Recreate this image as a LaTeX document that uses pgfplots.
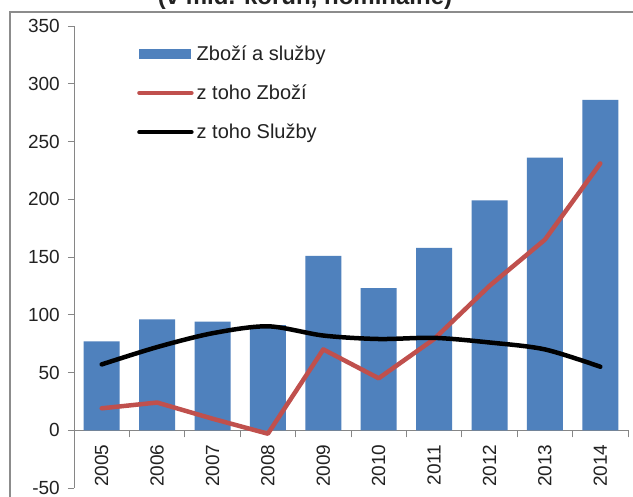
\documentclass[border=0pt]{standalone}
\usepackage{pgfplots}
\pgfplotsset{compat=1.18}
\usepackage{fontspec}
\setmainfont{Liberation Sans}
\definecolor{barblue}{HTML}{4F81BD}
\definecolor{linered}{HTML}{C0504D}
\definecolor{axgray}{HTML}{868686}
\definecolor{frgray}{HTML}{8C8C8C}
\definecolor{txt}{HTML}{222222}
\newcommand{\fs}{\fontsize{19bp}{22bp}\selectfont}
\newcommand{\fl}{\fontsize{20bp}{23bp}\selectfont}
\begin{document}
\begin{tikzpicture}
\clip (0,0) rectangle (633bp,-497bp);
\fill[white] (0,0) rectangle (633bp,-497bp);
\draw[line width=2bp, color=frgray] (10bp,-12bp) rectangle (700bp,-600bp);
\node[anchor=base, font=\fontsize{24bp}{27bp}\selectfont\bfseries, text=txt] at (305bp,-4bp) {(v mld. korun, nominálně)};
\begin{axis}[
  at={(74bp,-488bp)}, anchor=south west,
  scale only axis, width=554bp, height=462bp,
  xmin=-0.5, xmax=9.5, ymin=-50, ymax=350,
  axis x line=middle, axis y line=left,
  axis line style={-, axgray, line width=1bp},
  xtick={0,...,9},
  xticklabels={2005,2006,2007,2008,2009,2010,2011,2012,2013,2014},
  minor xtick={-0.5,0.5,...,9.5},
  major x tick style={draw=none},
  ytick={-50,0,50,100,150,200,250,300,350},
  tick align=outside,
  major tick length=6bp, minor tick length=7bp,
  tick style={axgray, line width=1bp},
  /pgf/number format/assume math mode=true,
  ticklabel style={font=\fs, text=txt},
  xticklabel style={rotate=90, anchor=east, inner sep=0pt},
  xticklabel shift=8bp,
  yticklabel style={anchor=east, inner sep=0pt, xshift=-8bp},
  legend style={draw=none, fill=none, at={(0.1137,0.958)}, anchor=north west,
    inner sep=0pt, font=\fl, text=txt, row sep=23bp, cells={anchor=west},
    nodes={inner xsep=3bp, inner ysep=0pt}},
]
\addplot[ybar, bar width=36bp, fill=barblue, draw=none,
  legend image code/.code={\fill[barblue] (0bp,-5bp) rectangle (52bp,5bp);}]
  coordinates {(0,77) (1,96) (2,94) (3,91) (4,151) (5,123) (6,158) (7,199) (8,236) (9,286)};
\addlegendentry{Zboží a služby}
\addplot[linered, line width=4.5bp, line cap=round, line join=round, mark=none,
  legend image code/.code={\draw[linered, line width=4.5bp, line cap=round] (0bp,0bp) -- (52bp,0bp);}]
  coordinates {(0,19) (1,24) (2,10) (3,-3) (4,70) (5,45) (6,79) (7,125) (8,165) (9,231)};
\addlegendentry{z toho Zboží}
\addplot[black, line width=4.5bp, line cap=round, smooth, tension=0.5, mark=none,
  legend image code/.code={\draw[black, line width=4.5bp, line cap=round] (0bp,0bp) -- (52bp,0bp);}]
  coordinates {(0,57) (1,72) (2,84) (3,90) (4,82) (5,79) (6,80) (7,76) (8,70) (9,55)};
\addlegendentry{z toho Služby}
\end{axis}
\end{tikzpicture}
\end{document}
